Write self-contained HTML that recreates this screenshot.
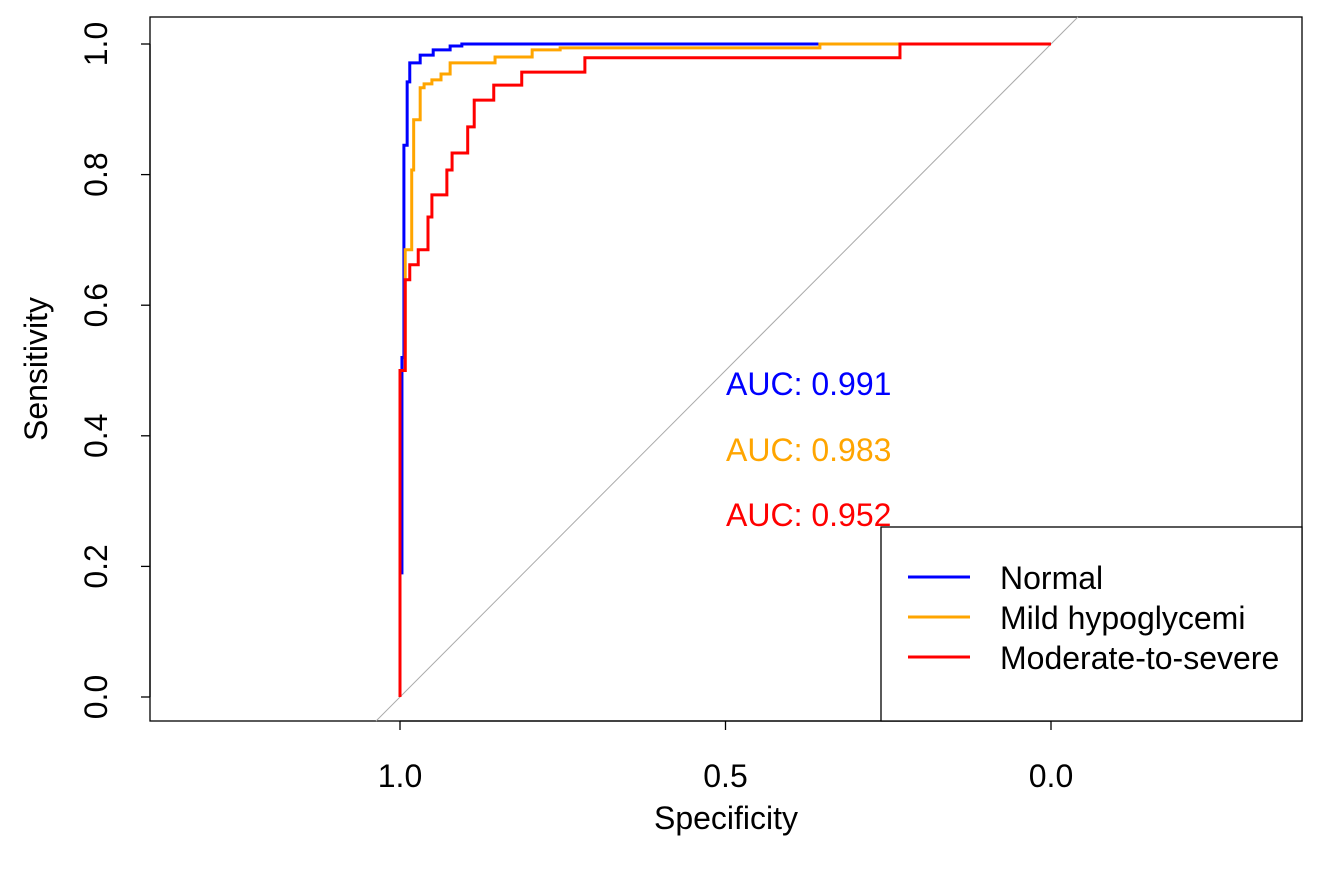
<!DOCTYPE html>
<html><head><meta charset="utf-8"><style>
body{margin:0;background:#fff}
svg text{font-family:"Liberation Sans",Arial,sans-serif}
</style></head><body>
<svg id="chart" width="1321" height="879">
<rect x="150" y="17" width="1152" height="704" fill="none" stroke="#000" stroke-width="1.3"/>
<g id="axes"></g>
<g id="curves"></g>
<text x="726" y="395" fill="#0000ff" font-size="32">AUC: 0.991</text>
<text x="726" y="461" fill="#ffa500" font-size="32">AUC: 0.983</text>
<text x="726" y="526" fill="#ff0000" font-size="32">AUC: 0.952</text>
<g>
<rect x="881" y="527" width="421" height="194" fill="#fff" stroke="#000" stroke-width="1.3"/>
<line x1="908" y1="577" x2="970" y2="577" stroke="#0000ff" stroke-width="3"/>
<text x="1000" y="589" font-size="32">Normal</text>
<line x1="908" y1="617" x2="970" y2="617" stroke="#ffa500" stroke-width="3"/>
<text x="1000" y="629" font-size="32">Mild hypoglycemi</text>
<line x1="908" y1="657" x2="970" y2="657" stroke="#ff0000" stroke-width="3"/>
<text x="1000" y="669" font-size="32">Moderate-to-severe</text>
</g>
<text x="726" y="829" font-size="32" text-anchor="middle">Specificity</text>
<text transform="translate(47,369) rotate(-90)" font-size="32" text-anchor="middle">Sensitivity</text>
</svg>
<script>
const xTicks=[1.0,0.5,0.0];
const xTickLabels=["1.0","0.5","0.0"];
const yTicks=[0,0.2,0.4,0.6,0.8,1.0];
const yTickLabels=["0.0","0.2","0.4","0.6","0.8","1.0"];
const normalSpec=[1.0,1.0,0.997,0.994,0.989,0.985,0.969,0.949,0.923,0.905,0.0];
const normalSens=[0.0,0.19,0.52,0.845,0.942,0.971,0.983,0.991,0.997,1.0,1.0];
const mildSpec=[1.0,1.0,0.992,0.982,0.979,0.969,0.963,0.951,0.937,0.923,0.854,0.797,0.754,0.355,0.0];
const mildSens=[0.0,0.5,0.685,0.807,0.884,0.933,0.939,0.945,0.954,0.971,0.980,0.991,0.994,1.0,1.0];
const modSpec=[1.0,1.0,0.992,0.985,0.972,0.957,0.951,0.928,0.920,0.896,0.886,0.856,0.813,0.716,0.293,0.232,0.0];
const modSens=[0.0,0.5,0.639,0.662,0.685,0.735,0.769,0.807,0.833,0.873,0.914,0.937,0.957,0.979,0.979,1.0,1.0];
const X=s=>400+(1-s)*651;
const Y=v=>697-v*653;
const NS="http://www.w3.org/2000/svg";
const axes=document.getElementById('axes');
const curves=document.getElementById('curves');
function mk(t,a,p){const e=document.createElementNS(NS,t);for(const k in a)e.setAttribute(k,a[k]);p.appendChild(e);return e;}
const r=651/653;
const diag=mk('line',{x1:X(1)-(721-Y(0))*r,y1:721,x2:X(0)+(Y(1)-17)*r,y2:17,stroke:'#aaa','stroke-width':1},axes);


mk('line',{x1:X(1),y1:721,x2:X(0),y2:721,stroke:'#000','stroke-width':1.3},axes);
xTicks.forEach((t,i)=>{
 mk('line',{x1:X(t),y1:721,x2:X(t),y2:730,stroke:'#000','stroke-width':1.3},axes);
 const e=mk('text',{x:X(t),y:787,'font-size':32,'text-anchor':'middle'},axes);e.textContent=xTickLabels[i];
 
 
});
mk('line',{x1:150,y1:Y(0),x2:150,y2:Y(1),stroke:'#000','stroke-width':1.3},axes);
yTicks.forEach((t,i)=>{
 mk('line',{x1:141,y1:Y(t),x2:150,y2:Y(t),stroke:'#000','stroke-width':1.3},axes);
 const e=mk('text',{transform:`translate(107,${Y(t)}) rotate(-90)`,'font-size':32,'text-anchor':'middle'},axes);e.textContent=yTickLabels[i];
 
 
});
function draw(sp,se,col,name){
 let d=`M${X(sp[0])},${Y(se[0])}`;
 for(let i=1;i<sp.length;i++){d+=` L${X(sp[i])},${Y(se[i-1])} L${X(sp[i])},${Y(se[i])}`;}
 const p=mk('path',{d:d,fill:'none',stroke:col,'stroke-width':3},curves);
 
 
}
draw(normalSpec,normalSens,'#0000ff','roc-normal');
draw(mildSpec,mildSens,'#ffa500','roc-mild');
draw(modSpec,modSens,'#ff0000','roc-moderate');
</script>
</body></html>
